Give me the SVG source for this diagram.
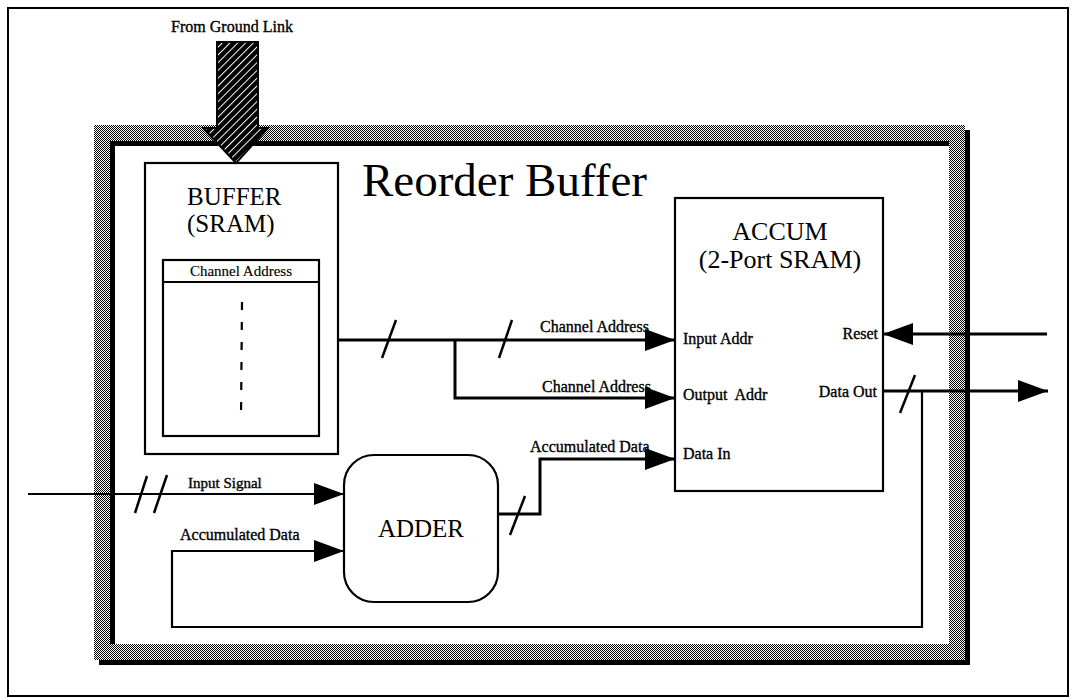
<svg xmlns="http://www.w3.org/2000/svg" width="1076" height="698" viewBox="0 0 1076 698">
<defs>
<style>
text{font-family:"Liberation Serif","Times New Roman",serif;fill:#000}
.sm{font-size:16px;stroke:#000;stroke-width:0.35}
.big{font-size:25px}
.ln{fill:none;stroke:#000;stroke-width:3}
.ln2{fill:none;stroke:#000;stroke-width:2.2}
.box{fill:#fff;stroke:#000;stroke-width:2.2}
.sl{stroke:#000;stroke-width:2.5;fill:none}
</style>
<pattern id="chk" width="2" height="2" patternUnits="userSpaceOnUse">
<rect width="2" height="2" fill="#fff"/>
<rect width="1" height="1" fill="#000"/>
<rect x="1" y="1" width="1" height="1" fill="#000"/>
</pattern>
<pattern id="diag" width="5.5" height="5.5" patternUnits="userSpaceOnUse" patternTransform="rotate(45)">
<rect width="5.5" height="5.5" fill="#000"/>
<rect width="1" height="5.5" fill="#fff"/>
</pattern>
<marker id="ah" markerUnits="userSpaceOnUse" viewBox="0 0 30 22" refX="30" refY="11" markerWidth="30" markerHeight="22" orient="auto">
<path d="M0,0 L30,11 L0,22 Z" fill="#000"/>
</marker>
</defs>
<rect width="1076" height="698" fill="#fff"/>
<rect id="outer-border" x="8" y="8" width="1060" height="688" fill="none" stroke="#000" stroke-width="2"/>

<g id="reorder-buffer">
<path d="M99,130 H970 V665 H99 Z M115,146 H954 V649 H115 Z" fill="#000" fill-rule="evenodd"/>
<path d="M94,125 H965 V660 H94 Z M110,141 H949 V644 H110 Z" fill="url(#chk)" fill-rule="evenodd"/>
<text x="362" y="196" style="font-size:47px">Reorder Buffer</text>
</g>

<g id="buffer">
<rect class="box" x="145" y="163" width="193" height="291"/>
<text class="big" x="187" y="205">BUFFER</text>
<text class="big" x="187" y="232">(SRAM)</text>
<rect class="box" x="163" y="260" width="156" height="176"/>
<line x1="163" y1="282" x2="319" y2="282" stroke="#000" stroke-width="2"/>
<text x="241" y="276" text-anchor="middle" style="font-size:15px;stroke:#000;stroke-width:0.15">Channel Address</text>
<line x1="242" y1="302" x2="241" y2="418" stroke="#000" stroke-width="2.2" stroke-dasharray="8 12"/>
</g>

<g id="ground-link">
<text x="232" y="32" text-anchor="middle" style="font-size:16px;stroke:#000;stroke-width:0.35">From Ground Link</text>
<path d="M217,42 H258 V128 H268 L236,163 L203,128 H217 Z" fill="url(#diag)" stroke="#000" stroke-width="2"/>
</g>

<g id="accum">
<rect class="box" x="675" y="198" width="208" height="293"/>
<text x="780" y="240" text-anchor="middle" style="font-size:26px">ACCUM</text>
<text x="780" y="268" text-anchor="middle" style="font-size:26px">(2-Port SRAM)</text>
<text class="sm" x="683" y="344">Input Addr</text>
<text class="sm" x="683" y="400" style="white-space:pre">Output  Addr</text>
<text class="sm" x="683" y="459">Data In</text>
<text class="sm" x="878" y="339" text-anchor="end">Reset</text>
<text class="sm" x="877" y="397" text-anchor="end">Data Out</text>
</g>

<g id="adder">
<rect class="box" x="344" y="455" width="154" height="147" rx="30" ry="30"/>
<text x="421" y="537" text-anchor="middle" style="font-size:25px">ADDER</text>
</g>

<g id="connectors">
<text class="sm" x="540" y="332">Channel Address</text>
<text class="sm" x="542" y="392">Channel Address</text>
<text class="sm" x="530" y="452">Accumulated Data</text>
<text class="sm" x="188" y="488" style="font-size:15px">Input Signal</text>
<text class="sm" x="180" y="540">Accumulated Data</text>
<path class="ln" d="M338,340 H675" marker-end="url(#ah)"/>
<path class="ln" d="M455,340 V398 H675" marker-end="url(#ah)"/>
<path class="ln" d="M498,514 H540 V459 H675" marker-end="url(#ah)"/>
<path class="ln2" d="M28,494 H344" marker-end="url(#ah)"/>
<path class="ln2" d="M922,391 V627 H172 V551 H344" marker-end="url(#ah)"/>
<path class="ln" d="M883,391 H1048" marker-end="url(#ah)"/>
<path class="ln" d="M1047,334 H883" marker-end="url(#ah)"/>
<line class="sl" x1="382" y1="358" x2="396" y2="320"/>
<line class="sl" x1="499" y1="358" x2="512" y2="320"/>
<line class="sl" x1="510" y1="535" x2="525" y2="496"/>
<line class="sl" x1="135" y1="513" x2="147" y2="476"/>
<line class="sl" x1="154" y1="513" x2="167" y2="475"/>
<line class="sl" x1="900" y1="413" x2="915" y2="375"/>
</g>
</svg>
